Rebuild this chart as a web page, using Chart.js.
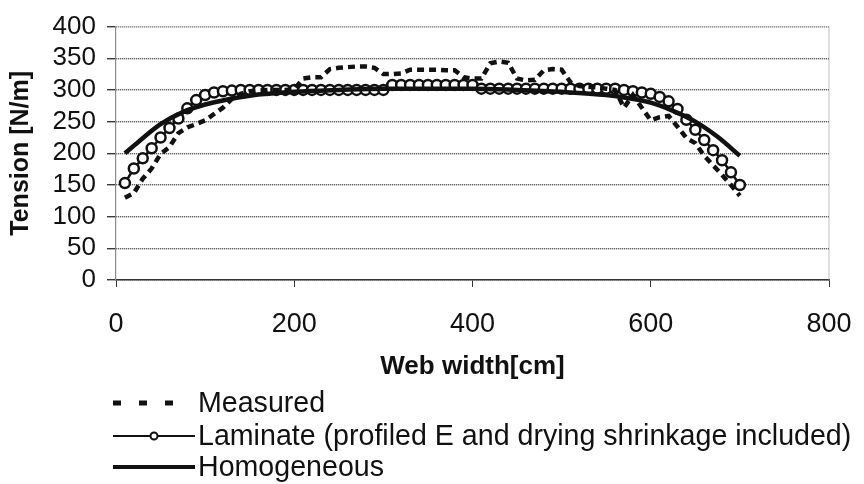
<!DOCTYPE html>
<html>
<head>
<meta charset="utf-8">
<script src="https://cdn.jsdelivr.net/npm/chart.js@4.4.0/dist/chart.umd.min.js"></script>
<style>
  html, body { margin: 0; padding: 0; background: #fff; }
  #wrap { width: 864px; height: 484px; }
</style>
</head>
<body>
<div id="wrap"><canvas id="tension-chart" width="864" height="484"></canvas></div>
<script>
// Ancho de la banda (cm) y tensiones (N/m)
const anchoMedido = [10, 20, 30, 40, 50, 60, 70, 80, 90, 100, 110, 120, 130, 140, 150, 160, 170, 180, 190, 200,
  210, 220, 230, 240, 250, 260, 270, 280, 290, 300, 310, 320, 330, 340, 350, 360, 370, 380, 390, 400,
  410, 420, 430, 440, 450, 460, 470, 480, 490, 500, 510, 520, 530, 540, 550, 560, 570, 580, 590, 600,
  610, 620, 630, 640, 650, 660, 670, 680, 690, 700];
const tensionMedida = [130, 137, 160, 176, 199, 210, 232, 241, 246, 252, 262, 272, 286, 294, 298, 299, 300, 300, 300, 301,
  318, 320, 320, 333, 335, 336, 337, 337, 335, 325, 325, 326, 332, 332, 332, 332, 331, 331, 320, 318,
  318, 342, 345, 343, 318, 315, 316, 331, 333, 332, 312, 306, 305, 304, 302, 300, 272, 292, 272, 252,
  257, 259, 242, 224, 216, 196, 181, 166, 150, 133];

const anchoLaminado = anchoMedido;
const tensionLaminado = [153, 176, 192, 208, 225, 240, 255, 271, 284, 292, 296, 298, 299, 300, 300, 300, 300, 300, 300, 300,
  300, 300, 300, 300, 300, 300, 300, 300, 300, 300, 308, 308, 308, 308, 308, 308, 308, 308, 308, 308,
  302, 302, 302, 302, 302, 302, 302, 302, 302, 302, 302, 302, 302, 302, 302, 302, 300, 298, 296, 294,
  289, 282, 270, 253, 237, 221, 205, 189, 170, 150];

const anchoHomogeneo = [10, 25, 50, 75, 100, 125, 150, 200, 250, 300, 350, 400, 450, 500, 550, 575, 600, 625, 650, 675, 700];
const tensionHomogeneo = [200, 218, 246, 265, 277, 285, 291, 297, 300, 302, 302, 302, 300, 297, 292, 287, 280, 267, 250, 226, 196];

const ticksX = [0, 200, 400, 600, 800];
const ticksY = [0, 50, 100, 150, 200, 250, 300, 350, 400];

const etiquetas = ['Measured', 'Laminate (profiled E and drying shrinkage included)', 'Homogeneous'];

const fuente = '"Liberation Sans", Arial, sans-serif';

function puntos(xs, ys) {
  return xs.map((x, i) => ({ x: x, y: ys[i] }));
}

// Marco gris del área de trazado y leyenda en columna
const marcoYLeyenda = {
  id: 'marcoYLeyenda',
  afterDraw(chart) {
    const ctx = chart.ctx;
    const a = chart.chartArea;
    ctx.save();
    ctx.strokeStyle = '#9a9a9a';
    ctx.lineWidth = 1.2;
    ctx.setLineDash([1, 1]);
    ctx.beginPath();
    ctx.moveTo(a.left, a.top);
    ctx.lineTo(a.right, a.top);
    ctx.lineTo(a.right, a.bottom);
    ctx.stroke();
    ctx.setLineDash([]);

    const x0 = 113, x1 = 195, xt = 198;
    const filas = [403, 436, 467];
    ctx.strokeStyle = '#111';
    ctx.fillStyle = '#111';

    // Measured: tres guiones
    [113, 139, 165].forEach(x => ctx.fillRect(x, filas[0] - 2.5, 8, 5));
    // Laminate: línea fina con círculo
    ctx.lineWidth = 2;
    ctx.beginPath();
    ctx.moveTo(x0, filas[1]);
    ctx.lineTo(x1, filas[1]);
    ctx.stroke();
    ctx.beginPath();
    ctx.fillStyle = '#fff';
    ctx.arc((x0 + x1) / 2, filas[1], 3.5, 0, Math.PI * 2);
    ctx.fill();
    ctx.stroke();
    // Homogeneous: línea gruesa
    ctx.lineWidth = 4;
    ctx.beginPath();
    ctx.moveTo(x0, filas[2]);
    ctx.lineTo(x1, filas[2]);
    ctx.stroke();

    ctx.fillStyle = '#111';
    ctx.font = '28.6px ' + fuente;
    ctx.textBaseline = 'middle';
    ctx.textAlign = 'left';
    etiquetas.forEach((t, i) => ctx.fillText(t, xt, filas[i] + 1));
    ctx.restore();
  }
};

const ctx = document.getElementById('tension-chart').getContext('2d');
window.tensionChart = new Chart(ctx, {
  type: 'line',
  data: {
    datasets: [
      {
        label: etiquetas[0],
        data: puntos(anchoMedido, tensionMedida),
        borderColor: '#111',
        borderWidth: 4.5,
        borderDash: [7, 5],
        pointRadius: 0,
        tension: 0,
        order: 0
      },
      {
        label: etiquetas[1],
        data: puntos(anchoLaminado, tensionLaminado),
        borderColor: '#111',
        borderWidth: 2.5,
        pointRadius: 5,
        pointBorderWidth: 2.5,
        pointBackgroundColor: '#fff',
        pointBorderColor: '#111',
        tension: 0,
        order: 2
      },
      {
        label: etiquetas[2],
        data: puntos(anchoHomogeneo, tensionHomogeneo),
        borderColor: '#111',
        borderWidth: 4.5,
        pointRadius: 0,
        cubicInterpolationMode: 'monotone',
        order: 1
      }
    ]
  },
  options: {
    responsive: false,
    animation: false,
    layout: { padding: { left: 0, top: 18, right: 35, bottom: 94 } },
    plugins: {
      legend: { display: false },
      tooltip: { enabled: false }
    },
    scales: {
      x: {
        type: 'linear',
        min: 0,
        max: 800,
        afterBuildTicks: s => { s.ticks = ticksX.map(v => ({ value: v })); },
        afterFit: s => {
          s.height = 110;
          s.paddingLeft = 0;
          s.paddingRight = 0;
        },
        grid: { drawOnChartArea: false, tickLength: 7, color: '#333', lineWidth: 1 },
        border: { color: '#333', width: 1.5 },
        ticks: {
          color: '#111',
          padding: 21,
          autoSkip: false,
          font: { family: fuente, size: 27 },
          maxRotation: 0
        },
        title: {
          display: true,
          text: 'Web width[cm]',
          color: '#111',
          font: { family: fuente, size: 26, weight: 'bold' },
          padding: { top: 0, bottom: 8 }
        }
      },
      y: {
        min: 0,
        max: 400,
        afterBuildTicks: s => { s.ticks = ticksY.map(v => ({ value: v })); },
        afterFit: s => { s.width = 116; },
        grid: { color: '#3a3a3a', lineWidth: 1.4, tickLength: 9 },
        border: { color: '#8a8a8a', width: 1.2, dash: [1, 1] },
        ticks: {
          color: '#111',
          padding: 11,
          autoSkip: false,
          font: { family: fuente, size: 26 }
        },
        title: {
          display: true,
          text: 'Tension [N/m]',
          color: '#111',
          font: { family: fuente, size: 25, weight: 'bold' },
          padding: { top: 6, bottom: 0 }
        }
      }
    }
  },
  plugins: [marcoYLeyenda]
});
</script>
</body>
</html>
